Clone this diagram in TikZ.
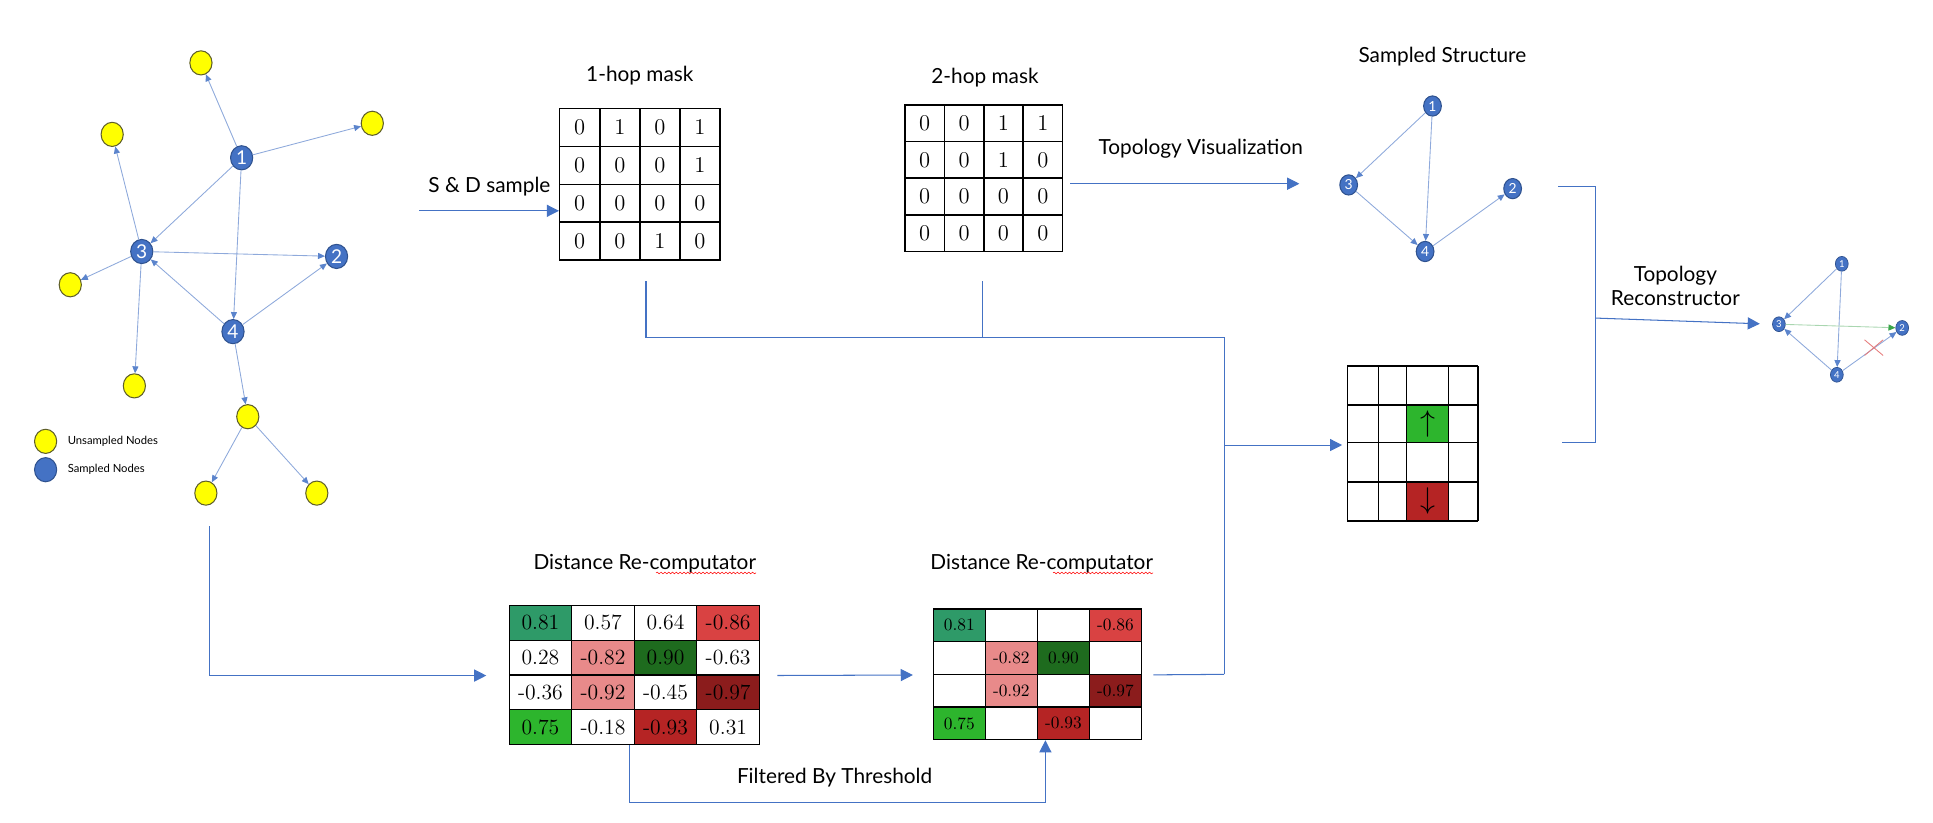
\documentclass[tikz,border=0pt]{standalone}
\usepackage{fontspec}
\setsansfont{Lato}
\usetikzlibrary{shapes,arrows.meta,decorations.pathmorphing}

\definecolor{sampblue}{HTML}{4472C4}
\definecolor{sampline}{HTML}{2F528F}
\definecolor{unfill}{HTML}{FFFF00}
\definecolor{unline}{HTML}{5E5E2A}
\definecolor{edgeblue}{HTML}{8EA9DB}
\definecolor{tipblue}{HTML}{5B84CC}
\definecolor{flowblue}{HTML}{4472C4}
\definecolor{edgegreen}{HTML}{A9D6B0}
\definecolor{tipgreen}{HTML}{3AA64A}
\definecolor{crossred}{HTML}{E67C7C}
\definecolor{tealgreen}{HTML}{2E9A68}
\definecolor{darkgreen}{HTML}{1E6B1E}
\definecolor{lightgreen}{HTML}{2DB52D}
\definecolor{lightred}{HTML}{D94242}
\definecolor{pinkred}{HTML}{E88A8A}
\definecolor{darkred}{HTML}{8B1C1C}
\definecolor{midred}{HTML}{B52424}

\begin{document}
\begin{tikzpicture}[x=0.025cm,y=-0.025cm,
    every node/.style={font=\sffamily},
    unode/.style={ellipse,draw=unline,fill=unfill,line width=0.6pt,minimum width=0.45cm,minimum height=0.49cm,inner sep=0pt},
    snode/.style={ellipse,draw=sampline,fill=sampblue,line width=0.6pt,minimum width=0.45cm,minimum height=0.49cm,inner sep=0pt,text=white,font=\sffamily\fontsize{11}{11}\selectfont},
    mininode/.style={snode,minimum width=0.36cm,minimum height=0.41cm,font=\sffamily\fontsize{8}{8}\selectfont},
    tinynode/.style={snode,line width=0.4pt,minimum width=0.26cm,minimum height=0.3cm,font=\sffamily\fontsize{5.5}{5.5}\selectfont},
    gedge/.style={draw=edgeblue,line width=0.5pt,-{Triangle[length=4pt,width=3.5pt,color=tipblue]}},
    flow/.style={draw=flowblue,line width=0.6pt,-{Triangle[length=7pt,width=7pt]}},
    link/.style={draw=flowblue,line width=0.6pt},
    title/.style={font=\sffamily\fontsize{12}{14}\selectfont},
    squiggle/.style={draw=red,line width=0.3pt,decorate,decoration={snake,amplitude=0.5pt,segment length=2.2pt}},
    maskA/.style={draw,line width=0.9pt,minimum width=0.8125cm,minimum height=0.769cm,inner sep=0pt,font=\fontsize{13}{13}\selectfont},
    maskB/.style={maskA,minimum width=0.8cm,minimum height=0.744cm},
    distA/.style={draw,line width=0.7pt,minimum width=1.269cm,minimum height=0.706cm,inner sep=0pt,font=\fontsize{12.5}{12.5}\selectfont},
    distB/.style={distA,minimum width=1.056cm,minimum height=0.6625cm,font=\fontsize{10}{10}\selectfont},
    gline/.style={draw,line width=0.8pt}]
    \useasboundingbox (0,0) rectangle (1568,667);

    \node[snode] (g1) at (196,128) {1};
    \node[snode] (g2) at (273,208) {2};
    \node[snode] (g3) at (115,204) {3};
    \node[snode] (g4) at (189,269) {4};
    \node[unode] (u1) at (163,51) {};
    \node[unode] (u2) at (302,100) {};
    \node[unode] (u3) at (91,109) {};
    \node[unode] (u4) at (57,231) {};
    \node[unode] (u5) at (109,313) {};
    \node[unode] (u6) at (201,338) {};
    \node[unode] (u7) at (167,400) {};
    \node[unode] (u8) at (257,400) {};
    \draw[gedge] (g1) -- (u1);
    \draw[gedge] (g1) -- (u2);
    \draw[gedge] (g1) -- (g3);
    \draw[gedge] (g1) -- (g4);
    \draw[gedge] (g3) -- (u3);
    \draw[gedge] (g3) -- (g2);
    \draw[gedge] (g3) -- (u4);
    \draw[gedge] (g3) -- (u5);
    \draw[gedge] (g4) -- (g3);
    \draw[gedge] (g4) -- (g2);
    \draw[gedge] (g4) -- (u6);
    \draw[gedge] (u6) -- (u7);
    \draw[gedge] (u6) -- (u8);
    \node[unode] (lu) at (37,358) {};
    \node[snode] (ls) at (37,381) {};
    \node[anchor=west,font=\sffamily\fontsize{6.5}{7}\selectfont] (lut) at (50,358) {Unsampled Nodes};
    \node[anchor=west,font=\sffamily\fontsize{6.5}{7}\selectfont] (lst) at (50,381) {Sampled Nodes};

    \node[title] (hop1) at (519,61) {1-hop mask};
    \foreach \vals [count=\r] in {{0,1,0,1},{0,0,0,1},{0,0,0,0},{0,0,1,0}}
      \foreach \v [count=\c] in \vals
        \node[maskA] (ma-\r-\c) at ({454+32.5*(\c-0.5)},{88+30.75*(\r-0.5)}) {\v};
    \node[title] (hop2) at (799,63) {2-hop mask};
    \foreach \vals [count=\r] in {{0,0,1,1},{0,0,1,0},{0,0,0,0},{0,0,0,0}}
      \foreach \v [count=\c] in \vals
        \node[maskB] (mb-\r-\c) at ({734+32*(\c-0.5)},{85+29.75*(\r-0.5)}) {\v};

    \node[title] (sdt) at (397,151) {S \& D sample};
    \coordinate (sd) at (340,171);
    \draw[flow] (sd) -- (sd -| ma-3-1.west);

    \node[title] (tvt) at (974,121) {Topology Visualization};
    \coordinate (tva) at (868,149);
    \coordinate (tvb) at (1054,149);
    \draw[flow] (tva) -- (tvb);

    \node[title] (sst) at (1170,46) {Sampled Structure};
    \node[mininode] (s1) at (1162,86) {1};
    \node[mininode] (s2) at (1227,153) {2};
    \node[mininode] (s3) at (1094,150) {3};
    \node[mininode] (s4) at (1156,204) {4};
    \draw[gedge] (s1) -- (s3);
    \draw[gedge] (s1) -- (s4);
    \draw[gedge] (s3) -- (s4);
    \draw[gedge] (s4) -- (s2);

    \coordinate (bt) at (1264,151);
    \coordinate (bb) at (1267,359);
    \coordinate (bx) at (1294,258);
    \draw[link] (bt) -- (bt -| bx) -- (bb -| bx) -- (bb);
    \node[title,align=center] (trt) at (1359,232) {Topology\\Reconstructor};
    \node[tinynode] (r1) at (1494,214) {1};
    \node[tinynode] (r2) at (1543,266) {2};
    \node[tinynode] (r3) at (1443,263) {3};
    \node[tinynode] (r4) at (1490,304) {4};
    \draw[flow,shorten >=0.25cm] (bx) -- (r3.west);
    \draw[gedge] (r1) -- (r3);
    \draw[gedge] (r1) -- (r4);
    \draw[gedge] (r4) -- (r3);
    \draw[gedge] (r4) -- (r2);
    \draw[draw=edgegreen,line width=0.5pt,-{Triangle[length=4pt,width=3.5pt,color=tipgreen]}] (r3) -- (r2);
    \node[cross out,draw=crossred,line width=0.5pt,minimum width=0.36cm,minimum height=0.3cm,inner sep=0pt] (cut) at (1520,282) {};

    \node[fill=lightgreen,minimum width=0.85cm,minimum height=0.7625cm,inner sep=0pt,font=\fontsize{17}{17}\selectfont] (up) at (1158,343.75) {$\uparrow$};
    \node[fill=midred,minimum width=0.85cm,minimum height=0.79cm,inner sep=0pt,font=\fontsize{17}{17}\selectfont] (down) at (1158,406.8) {$\downarrow$};
    \node[minimum width=2.65cm,minimum height=3.14cm,inner sep=0pt] (grd) at (1146,359.8) {};
    \foreach \x in {1093,1118,1141,1175,1199}
      \draw[gline] (\x,297) -- (\x,422.6);
    \foreach \y in {297,328.5,359,391,422.6}
      \draw[gline] (1093,\y) -- (1199,\y);

    \coordinate (ja) at (524,228);
    \coordinate (jb) at (797,228);
    \coordinate (jc) at (993,274);
    \coordinate (jd) at (993,361);
    \coordinate (je) at (993,547);
    \draw[link] (ja) -- (ja |- jc) -- (jc) -- (je);
    \draw[link] (jb) -- (jb |- jc);
    \draw[flow,shorten >=0.1cm] (jd) -- (jd -| grd.west);

    \node[title] (dta) at (523,457) {Distance Re-computator};
    \draw[squiggle] ([xshift=-2.15cm,yshift=0.12cm]dta.south east) -- ([xshift=-0.12cm,yshift=0.12cm]dta.south east);
    \foreach \vals [count=\r] in {{0.81/tealgreen,0.57/white,0.64/white,-0.86/lightred},{0.28/white,-0.82/pinkred,0.90/darkgreen,-0.63/white},{-0.36/white,-0.92/pinkred,-0.45/white,-0.97/darkred},{0.75/lightgreen,-0.18/white,-0.93/midred,0.31/white}}
      \foreach \v/\f [count=\c] in \vals
        \node[distA,fill=\f] (da-\r-\c) at ({413+50.75*(\c-0.5)},{491+28.25*(\r-0.5)}) {\v};
    \node[title] (dtb) at (845,457) {Distance Re-computator};
    \draw[squiggle] ([xshift=-2.15cm,yshift=0.12cm]dtb.south east) -- ([xshift=-0.12cm,yshift=0.12cm]dtb.south east);
    \foreach \vals [count=\r] in {{0.81/tealgreen,{}/white,{}/white,-0.86/lightred},{{}/white,-0.82/pinkred,0.90/darkgreen,{}/white},{{}/white,-0.92/pinkred,{}/white,-0.97/darkred},{0.75/lightgreen,{}/white,-0.93/midred,{}/white}}
      \foreach \v/\f [count=\c] in \vals
        \node[distB,fill=\f] (db-\r-\c) at ({757+42.25*(\c-0.5)},{494+26.5*(\r-0.5)}) {\v};

    \coordinate (gl) at (170,427);
    \draw[flow,shorten >=0.45cm] (gl) |- (da-2-1.south west);
    \draw[flow,shorten <=0.35cm,shorten >=0.4cm] (da-2-4.south east) -- (db-2-1.south west);
    \draw[link,shorten <=0.225cm] (db-2-4.south east) -- (je);
    \coordinate (fa) at (511,651);
    \coordinate (fb) at (848,651);
    \draw[flow] (fa |- da-4-2.south) -- (fa) -- (fb) -- (fb |- db-4-3.south);
    \node[title] (ftt) at (677,631) {Filtered By Threshold};
\end{tikzpicture}
\end{document}
